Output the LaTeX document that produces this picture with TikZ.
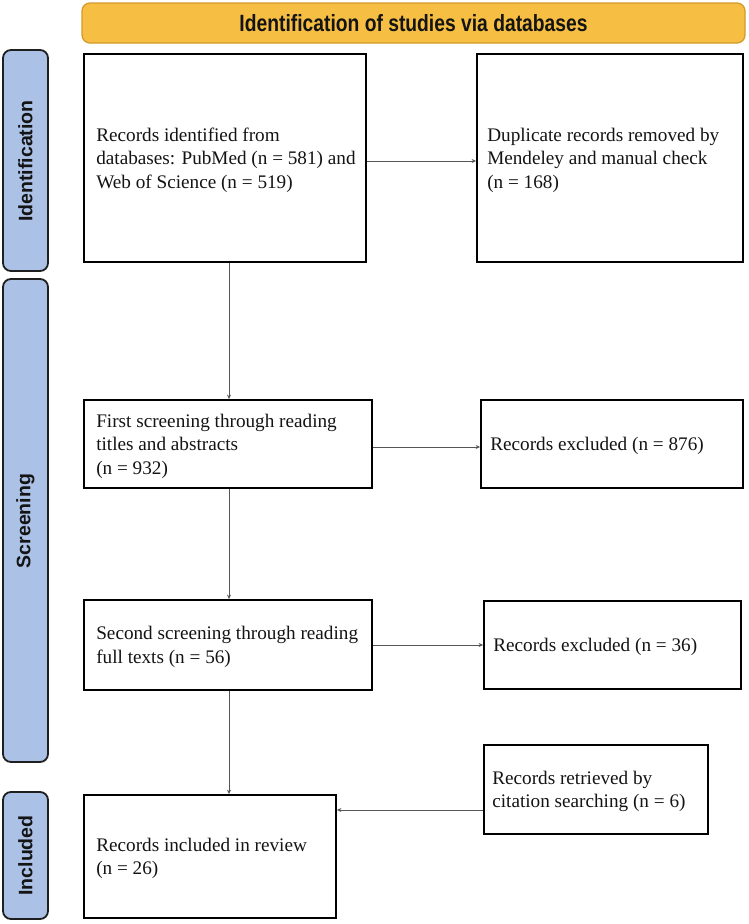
\documentclass[tikz,border=0pt]{standalone}
\usepackage{fontspec}
\setmainfont{Liberation Serif}
\newfontfamily\hsans{Liberation Sans}
\newfontfamily\hnarrow[FakeStretch=0.82]{Liberation Sans}
\usetikzlibrary{arrows.meta}
\definecolor{hdrfill}{HTML}{F6BE43}
\definecolor{hdrline}{HTML}{D49A2A}
\definecolor{sidefill}{HTML}{ABC1E6}
\definecolor{arrowc}{HTML}{555555}
\definecolor{txt}{HTML}{141414}
\begin{document}
\begin{tikzpicture}[x=1pt,y=-1pt,
  box/.style={draw=black, line width=1.8pt, rectangle, inner sep=0pt},
  btext/.style={anchor=west, inner sep=0pt, align=left, text=txt,
    font=\fontsize{19.2}{23.5}\selectfont},
  side/.style={draw=black!88, line width=1.8pt, fill=sidefill, rounded corners=8pt},
  sidelabel/.style={rotate=90, text=txt, font=\hsans\bfseries\fontsize{19.5}{21}\selectfont},
  conn/.style={draw=arrowc, line width=0.9pt, -{Stealth[length=4.5pt,width=4pt]}}
]
\useasboundingbox (0,0) rectangle (748,924);
\fill[white] (0,0) rectangle (748,924);

% header
\node[draw=hdrline, fill=hdrfill, rounded corners=8pt, line width=1.3pt,
      minimum width=663pt, minimum height=40pt, text=txt,
      font=\hnarrow\bfseries\fontsize{23.5}{25}\selectfont] (hdr) at (413.5,23)
      {Identification of studies via databases};

% side bars
\draw[side] (3,50) rectangle (48,271);
\node[sidelabel] (lid) at (25.5,161) {Identification};
\draw[side] (3,279) rectangle (48,762);
\node[sidelabel] (lsc) at (25.5,521) {Screening};
\draw[side] (3,792) rectangle (48,919);
\node[sidelabel] (lin) at (25.5,855.5) {Included};

% boxes (left column: 84 .. right edge)
\node[box, minimum width=282pt, minimum height=208pt] (b1) at (225,158) {};
\node[btext] (t1) at ([xshift=13pt,yshift=-2pt]b1.west)
  {Records identified from\\databases: PubMed (n = 581) and\\Web of Science (n = 519)};
\node[box, minimum width=266pt, minimum height=208pt] (b2) at (610,158) {};
\node[btext] (t2) at ([xshift=11pt,yshift=-2pt]b2.west)
  {Duplicate records removed by\\Mendeley and manual check\\(n = 168)};
\node[box, minimum width=288pt, minimum height=88pt] (b3) at (228,444) {};
\node[btext] (t3) at ([xshift=13pt,yshift=-2pt]b3.west)
  {First screening through reading\\titles and abstracts\\(n = 932)};
\node[box, minimum width=262pt, minimum height=88pt] (b4) at (612,444) {};
\node[btext] (t4) at ([xshift=10pt,yshift=-2pt]b4.west)
  {Records excluded (n = 876)};
\node[box, minimum width=288pt, minimum height=90pt] (b5) at (228,645) {};
\node[btext] (t5) at ([xshift=13pt,yshift=-2pt]b5.west)
  {Second screening through reading\\full texts (n = 56)};
\node[box, minimum width=257pt, minimum height=88pt] (b6) at (612.5,645) {};
\node[btext] (t6) at ([xshift=10pt,yshift=-2pt]b6.west)
  {Records excluded (n = 36)};
\node[box, minimum width=252pt, minimum height=123pt] (b7) at (210,856.5) {};
\node[btext] (t7) at ([xshift=13pt,yshift=-2pt]b7.west)
  {Records included in review\\(n = 26)};
\node[box, minimum width=224pt, minimum height=89pt] (b8) at (596,789.5) {};
\node[btext] (t8) at ([xshift=9pt,yshift=-2pt]b8.west)
  {Records retrieved by\\citation searching (n = 6)};

% connector guides
\coordinate (vx) at (229,0);
\coordinate (h1) at (0,161);
\coordinate (h3) at (0,447);
\coordinate (h5) at (0,645);
\coordinate (h8) at (0,810);

\draw[conn] (b1.east |- h1) -- (b2.west |- h1);
\draw[conn] (b1.south -| vx) -- (b3.north -| vx);
\draw[conn] (b3.east |- h3) -- (b4.west |- h3);
\draw[conn] (b3.south -| vx) -- (b5.north -| vx);
\draw[conn] (b5.east |- h5) -- (b6.west |- h5);
\draw[conn] (b5.south -| vx) -- (b7.north -| vx);
\draw[conn] (b8.west |- h8) -- (b7.east |- h8);
\end{tikzpicture}
\end{document}
